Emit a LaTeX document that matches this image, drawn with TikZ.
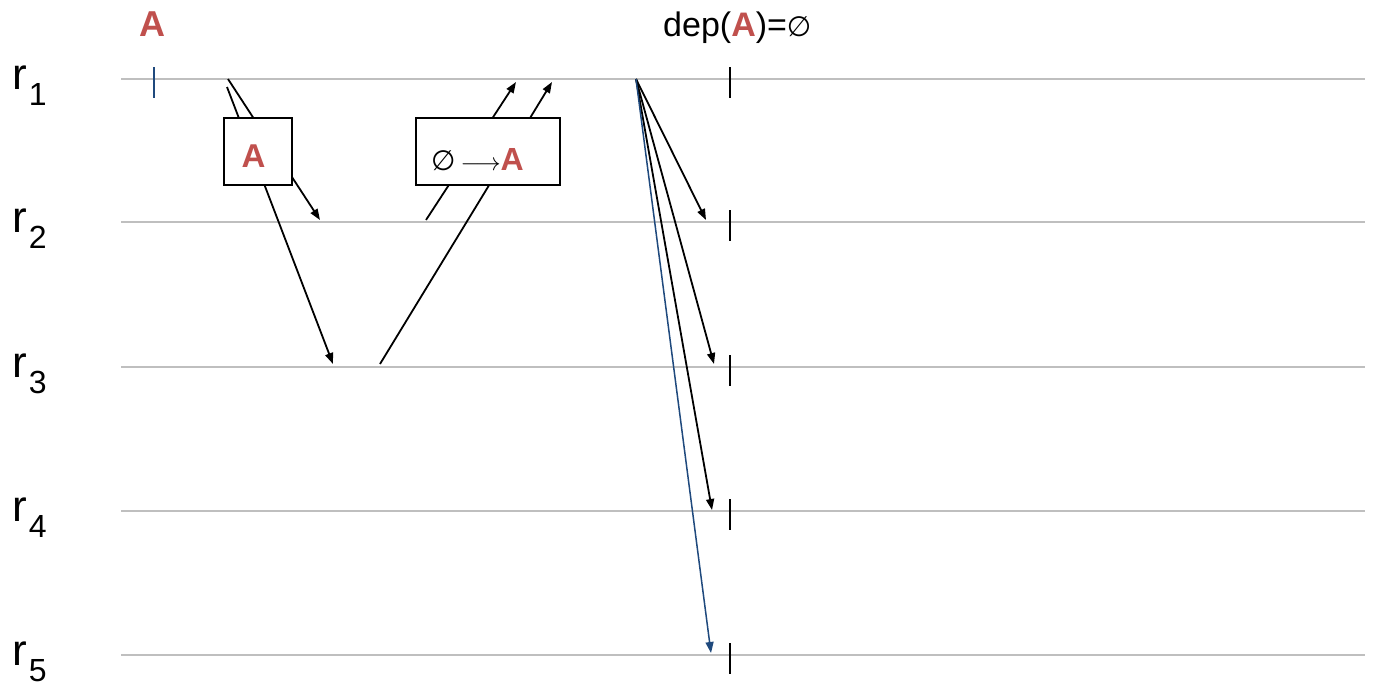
\documentclass[tikz,border=0pt]{standalone}
\usepackage{fontspec}
\setmainfont{Liberation Sans}
\newfontfamily\symfont{DejaVu Sans}
\usetikzlibrary{arrows.meta}
\definecolor{lanegray}{HTML}{BFBFBF}
\definecolor{opred}{HTML}{C0504D}
\definecolor{bcastblue}{HTML}{1F497D}
\newcommand{\opA}[1]{{\fontsize{#1}{#1}\selectfont\bfseries\color{opred}A}}
\newcommand{\noDeps}[1]{{\symfont\fontsize{#1}{#1}\selectfont ∅}}

\begin{document}
\begin{tikzpicture}[x=1pt,y=-1pt,
        lane/.style={lanegray,line width=2pt},
        msg/.style={line width=1.8pt,-{Triangle[length=11pt,width=8pt]}},
        opbox/.style={draw,fill=white,line width=1.8pt,inner sep=0pt},
        tick/.style={line width=2pt}]
        \useasboundingbox (0,0) rectangle (1378,686);
        % replicas
        \foreach \i/\y in {1/79,2/222,3/367,4/511,5/655}{
            \coordinate (s\i) at (121,\y);
            \coordinate (t\i) at (1365,\y);
            \draw[lane] (s\i)--(t\i);
            \node[anchor=base west,inner sep=0pt,font=\fontsize{44}{44}\selectfont] (r\i) at (12,\y+10) {r\kern2pt\raisebox{-16pt}{\fontsize{32}{32}\selectfont\i}};
            \coordinate (cut\i) at (730,\y-12);
            \draw[tick] (cut\i)--++(0,31);
        }
        % submit
        \node[anchor=base,inner sep=0pt] (opA) at (152,36) {\opA{36}};
        \coordinate (sub) at (154,67);
        \draw[bcastblue,line width=1.5pt] (sub)--++(0,31);
        % first round
        \coordinate (p1) at (228,79);
        \coordinate (p1b) at (227,87);
        \coordinate (p2) at (320,220);
        \coordinate (p3) at (333,364);
        \draw[msg] (p1)--(p2);
        \draw[msg] (p1b)--(p3);
        \node[opbox,minimum width=68pt,minimum height=67pt] (boxA) at (258,151.5) {};
        \node[anchor=base,inner sep=0pt] (lblA) at (253.5,167) {\opA{33}};
        % replies
        \coordinate (q2) at (426,220);
        \coordinate (q3) at (380,364);
        \coordinate (a1) at (516,82);
        \coordinate (a2) at (552,82);
        \draw[msg] (q2)--(a1);
        \draw[msg] (q3)--(a2);
        \node[opbox,minimum width=144pt,minimum height=67pt] (boxB) at (488,151.5) {};
        \node[anchor=base west,inner sep=0pt] (lblB) at (431,170) {\noDeps{28}\kern5pt{\fontsize{25}{25}\selectfont$\longrightarrow$}\opA{32}};
        % commit
        \coordinate (bc) at (636,79);
        \coordinate (c2) at (706,220);
        \coordinate (c3) at (714,364);
        \coordinate (c4) at (712,510);
        \coordinate (c5) at (711,653);
        \draw[msg] (bc)--(c2);
        \draw[msg] (bc)--(c3);
        \draw[msg] (bc)--(c4);
        \draw[msg,bcastblue,line width=1.5pt] (bc)--(c5);
        \node[anchor=base west,inner sep=0pt] (deps) at (663,36) {\fontsize{34}{34}\selectfont dep(\opA{34})=\noDeps{28}};
    \end{tikzpicture}
\end{document}
